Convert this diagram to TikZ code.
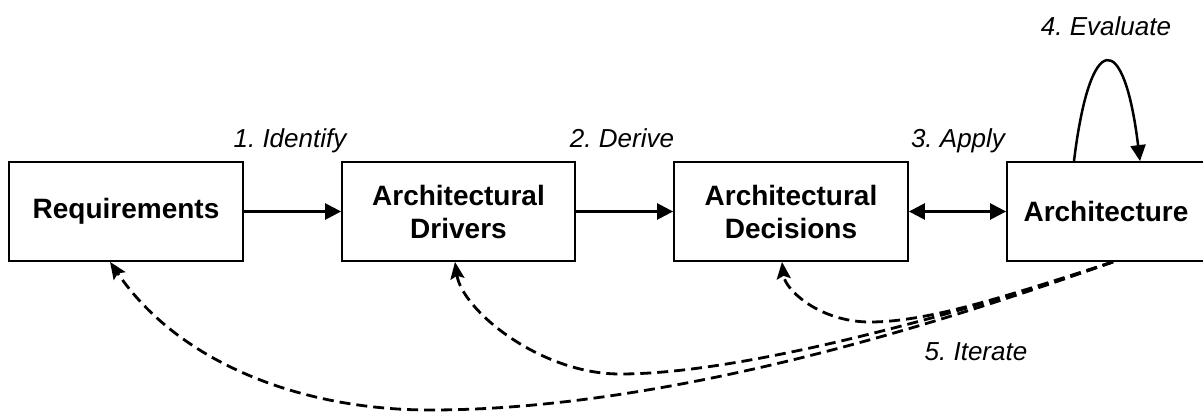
\documentclass[tikz,border=0pt]{standalone}
\usepackage{fontspec}
\setmainfont{Liberation Sans}
\usetikzlibrary{arrows.meta}
\begin{document}
\frenchspacing
\begin{tikzpicture}[x=1pt,y=-1pt,
  box/.style={draw=black,line width=1.8pt,minimum height=99pt,inner sep=0pt,align=center,
    font=\fontsize{28}{33}\selectfont\bfseries},
  lbl/.style={anchor=base,inner sep=0pt,font=\fontsize{26}{30}\selectfont\itshape},
  tip/.style={Triangle[length=16pt,width=16pt]},
  flow/.style={line width=2.5pt,-{Triangle[length=16pt,width=16pt]}},
  iter/.style={line width=2.8pt,dash pattern=on 11pt off 6pt,-{Stealth[length=17pt,width=14pt,inset=3pt]}}]
\useasboundingbox (0,0) rectangle (1203,412);
\node[box,minimum width=234pt] (req) at (126,211.5) {Requirements};
\node[box,minimum width=233pt] (drv) at (458.5,211.5) {Architectural\\Drivers};
\node[box,minimum width=234pt] (dec) at (791,211.5) {Architectural\\Decisions};
\node[box,minimum width=198pt] (arc) at (1106,211.5) {Architecture};
\node[lbl] (l1) at (290,147) {1. Identify};
\node[lbl] (l2) at (622,147) {2. Derive};
\node[lbl] (l3) at (958,147) {3. Apply};
\node[lbl] (l4) at (1106,36) {4. Evaluate};
\node[lbl] (l5) at (976,360) {5. Iterate};
\draw[flow] (req.east) -- (drv.west);
\draw[flow] (drv.east) -- (dec.west);
\draw[line width=2.5pt,{Triangle[length=16pt,width=16pt]}-{Triangle[length=16pt,width=16pt]}] (dec.east) -- (arc.west);
\coordinate (es) at ([xshift=-32pt]arc.north);
\coordinate (ee) at ([xshift=34pt]arc.north);
\draw[line width=2.5pt,-{Triangle[length=16pt,width=15pt]}] (es) .. controls (1090,29) and (1124,29) .. (ee);
\coordinate (s) at ([xshift=7pt]arc.south);
\coordinate (b1) at (430,410);
\coordinate (b2) at (620,374);
\coordinate (b3) at (870,322);
\draw[iter] (s) .. controls (1013,297) and (700,410) .. (b1) .. controls (300,410) and (178,362) .. ([xshift=-16pt]req.south);
\draw[iter] (s) .. controls (1013,297) and (760,374) .. (b2) .. controls (540,374) and (462,310) .. ([xshift=-3.5pt]drv.south);
\draw[iter] (s) .. controls (1013,294) and (930,322) .. (b3) .. controls (820,322) and (785,290) .. ([xshift=-9pt]dec.south);
\end{tikzpicture}
\end{document}
